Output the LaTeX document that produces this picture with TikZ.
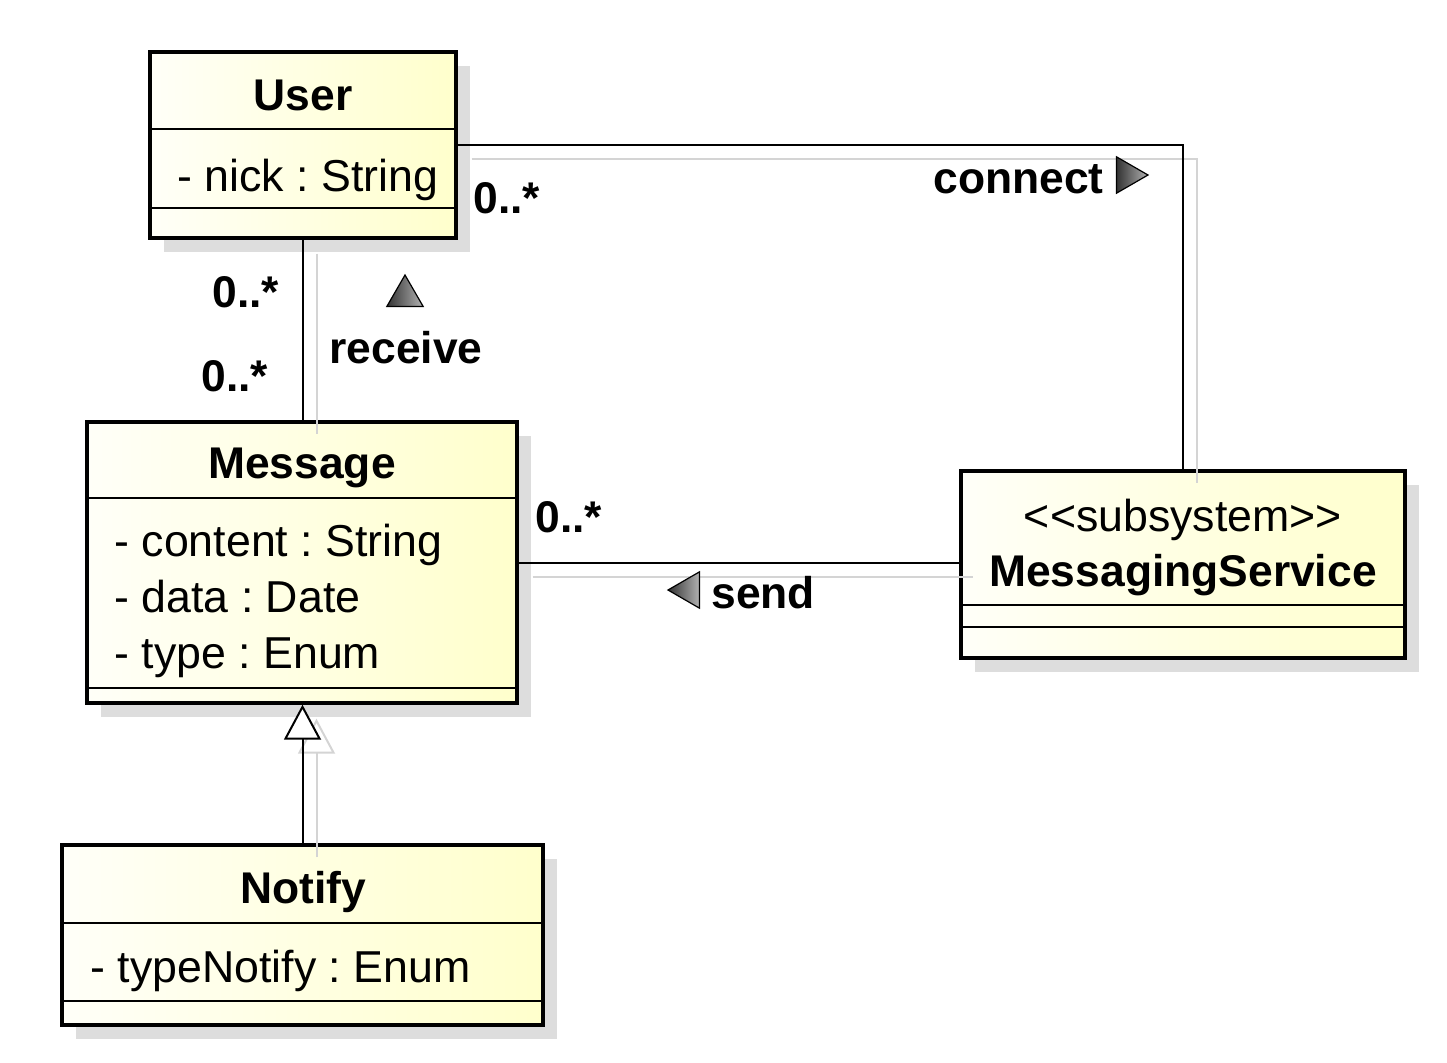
\documentclass[tikz,border=0pt]{standalone}
\usepackage{fontspec}
\setmainfont{Liberation Sans}
\frenchspacing
\usetikzlibrary{shapes,arrows.meta,positioning,calc,fit,shadows}

\definecolor{boxleft}{RGB}{255,255,248}
\definecolor{boxright}{RGB}{255,255,204}
\definecolor{shadowgray}{RGB}{221,221,221}
\definecolor{lineshade}{RGB}{212,212,212}

\tikzset{
  classbox/.style={draw, line width=1.7pt, inner sep=0pt, left color=boxleft, right color=boxright,
    drop shadow={shadow xshift=7pt, shadow yshift=-7pt, fill=shadowgray, opacity=1}},
  sepline/.style={line width=1pt},
  txt/.style={inner sep=0pt, font=\fontsize{22.35}{26}\selectfont},
  bold/.style={inner sep=0pt, font=\fontsize{22.2}{26}\selectfont\bfseries},
  assoc/.style={line width=1pt},
  lineshadow/.style={line width=1pt, draw=lineshade},
  gen/.style={-{Triangle[fill=white,length=17.5pt,width=18.5pt]}},
  dirmark/.style={regular polygon, regular polygon sides=3, minimum size=21pt, inner sep=0pt,
    draw, line width=0.6pt, left color=black!80, right color=black!30},
}

\begin{document}
\begin{tikzpicture}[x=0.5pt,y=-0.5pt]
    \useasboundingbox (0,0) rectangle (1447,1062);

    % Classes
    \node[classbox, fit={(150,52) (456,238)}] (user) {};
    \node[classbox, fit={(87,422) (517,703)}] (message) {};
    \node[classbox, fit={(62,845) (543,1025)}] (notify) {};
    \node[classbox, fit={(961,471) (1405,658)}] (service) {};

    % Compartments
    \foreach \cls/\y in {user/129, user/208, message/498, message/688, notify/923, notify/1001, service/605, service/627}
        \draw[sepline] (\cls.west |- 0,\y) -- (\cls.east |- 0,\y);

    % Class names and attributes
    \node[bold, anchor=base] (userName) at (303,110) {User};
    \node[txt, anchor=base west] (userNick) at (177,191) {- nick : String};

    \node[bold, anchor=base] (messageName) at (302,478) {Message};
    \node[txt, anchor=base west] (messageContent) at (114,556) {- content : String};
    \node[txt, anchor=base west] (messageData) at (114,612) {- data : Date};
    \node[txt, anchor=base west] (messageType) at (114,668) {- type : Enum};

    \node[bold, anchor=base] (notifyName) at (303,903) {Notify};
    \node[txt, anchor=base west] (notifyType) at (90,982) {- typeNotify : Enum};

    \node[txt, anchor=base] (serviceStereo) at (1183,531) {<{}<subsystem>{}>};
    \node[bold, anchor=base] (serviceName) at (1183,586) {MessagingService};

    % Connector shadows
    \begin{scope}[transform canvas={xshift=7pt,yshift=-7pt}]
        \draw[lineshadow] (user.south) -- (user.south |- message.north);
        \draw[lineshadow] (user.east) -| (service.north);
        \draw[lineshadow] (message.east) -- (message.east -| service.west);
        \draw[lineshadow, gen] (notify.north) -- (notify.north |- message.south);
    \end{scope}

    % Associations
    \draw[assoc] (user.south) -- (user.south |- message.north);
    \draw[assoc] (user.east) -| (service.north);
    \draw[assoc] (message.east) -- (message.east -| service.west);

    % Generalization
    \draw[assoc, gen] (notify.north) -- (notify.north |- message.south);

    % Multiplicities
    \node[bold, anchor=base west] (userConnectMult) at (473,213) {0..*};
    \node[bold, anchor=base west] (userReceiveMult) at (212,307) {0..*};
    \node[bold, anchor=base west] (messageReceiveMult) at (201,391) {0..*};
    \node[bold, anchor=base west] (messageSendMult) at (535,532) {0..*};

    % Association names
    \node[bold, anchor=base west] (connectLabel) at (933,193) {connect};
    \node[dirmark, rotate=-90] (connectMark) at (1127,175) {};
    \node[bold, anchor=base] (receiveLabel) at (406,363) {receive};
    \node[dirmark] (receiveMark) at (405,296) {};
    \node[bold, anchor=base west] (sendLabel) at (711,608) {send};
    \node[dirmark, rotate=90] (sendMark) at (689,590) {};
\end{tikzpicture}
\end{document}
